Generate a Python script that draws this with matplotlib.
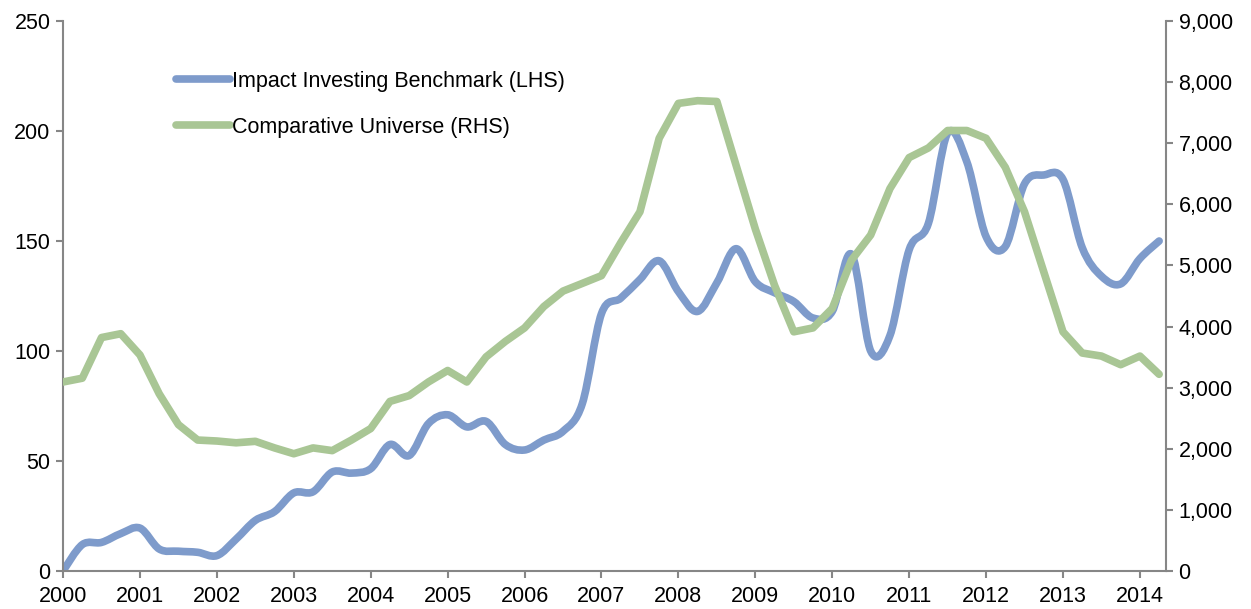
import matplotlib
matplotlib.use("Agg")
import matplotlib.pyplot as plt
import numpy as np
from matplotlib.path import Path
from matplotlib.patches import PathPatch
from matplotlib.lines import Line2D
from matplotlib.ticker import FuncFormatter, MultipleLocator

plt.rcParams["font.family"] = ["Liberation Sans", "DejaVu Sans"]

# quarterly observations, Q1 2000 .. Q2 2014 (decimal years)
quarters = [2000 + q / 4 for q in range(58)]

impact_lhs = [
    0, 12, 13, 17, 19.5, 10, 9, 8.5,
    7, 14.5, 23, 27, 35.5, 36, 45, 44.5,
    46.5, 57.5, 52.5, 67, 71, 65.5, 68, 57.5,
    55, 59.5, 63.5, 76, 117, 124, 132.5, 141,
    127, 118, 131, 146.5, 131.5, 126.5, 122.5, 115,
    118, 144, 100, 107, 146, 158, 199, 186,
    152, 147.5, 176, 180, 178, 147, 134, 130.5,
    142, 150,
]

universe_rhs = [
    3093, 3155, 3820, 3883, 3535, 2900, 2395, 2143,
    2127, 2098, 2122, 2014, 1919, 2014, 1970, 2143,
    2331, 2775, 2870, 3093, 3281, 3093, 3504, 3757,
    3978, 4327, 4580, 4706, 4833, 5371, 5878, 7081,
    7652, 7696, 7683, 6639, 5597, 4675, 3914, 3978,
    4296, 5086, 5498, 6257, 6765, 6923, 7208, 7208,
    7081, 6606, 5878, 4896, 3914, 3567, 3517, 3376,
    3517, 3219,
]

year_ticks = list(range(2000, 2015))

BLUE = "#7E9BCB"
GREEN = "#A9C695"
GREY = "#868686"


def smooth_path(x, y):
    # Excel-style smoothed line: cubic Bezier segments through every point
    x = np.asarray(x, float)
    y = np.asarray(y, float)
    pts = np.column_stack([x, y])
    verts = [pts[0]]
    codes = [Path.MOVETO]
    n = len(pts)
    for i in range(n - 1):
        p0 = pts[max(i - 1, 0)]
        p1 = pts[i]
        p2 = pts[i + 1]
        p3 = pts[min(i + 2, n - 1)]
        c1 = p1 + (p2 - p0) / 6.0
        c2 = p2 - (p3 - p1) / 6.0
        verts += [c1, c2, p2]
        codes += [Path.CURVE4] * 3
    return Path(verts, codes)


fig = plt.figure(figsize=(12.51, 6.09), dpi=100)
ax = fig.add_axes([0.0504, 0.0624, 0.8817, 0.9031])
ax2 = ax.twinx()

ax.add_patch(PathPatch(smooth_path(quarters, impact_lhs), facecolor="none",
                       edgecolor=BLUE, lw=5.5, capstyle="round", joinstyle="round"))
ax2.plot(quarters, universe_rhs, color=GREEN, lw=5.5,
         solid_capstyle="round", solid_joinstyle="round")

ax.set_xlim(2000, 2014.34)
ax.set_ylim(0, 250)
ax2.set_ylim(0, 9000)
ax.set_xticks(year_ticks)
ax.set_xticklabels([str(y) for y in year_ticks])
ax.yaxis.set_major_locator(MultipleLocator(50))
ax2.yaxis.set_major_locator(MultipleLocator(1000))
ax2.yaxis.set_major_formatter(FuncFormatter(lambda v, p: f"{int(v):,}"))

for a in (ax, ax2):
    a.spines["top"].set_visible(False)
    for s in ("left", "right", "bottom"):
        a.spines[s].set_color(GREY)
        a.spines[s].set_linewidth(1.5)
    a.tick_params(axis="both", colors=GREY, labelcolor="black", labelsize=15.5,
                  length=5, width=1.5, direction="out")
ax2.spines["left"].set_visible(False)
ax2.spines["bottom"].set_visible(False)
ax.spines["right"].set_visible(False)
ax.tick_params(axis="y", pad=4)
ax2.tick_params(axis="y", pad=4)
ax.tick_params(axis="x", pad=6)

handles = [
    Line2D([], [], color=BLUE, lw=5.5, solid_capstyle="round"),
    Line2D([], [], color=GREEN, lw=5.5, solid_capstyle="round"),
]
ax2.legend(handles, ["Impact Investing Benchmark (LHS)", "Comparative Universe (RHS)"],
           loc="upper left", bbox_to_anchor=(0.095, 0.925), frameon=False,
           fontsize=15.5, handlelength=2.5, handletextpad=0.1, labelspacing=1.15,
           borderaxespad=0)

fig.savefig("out.png", dpi=100)
